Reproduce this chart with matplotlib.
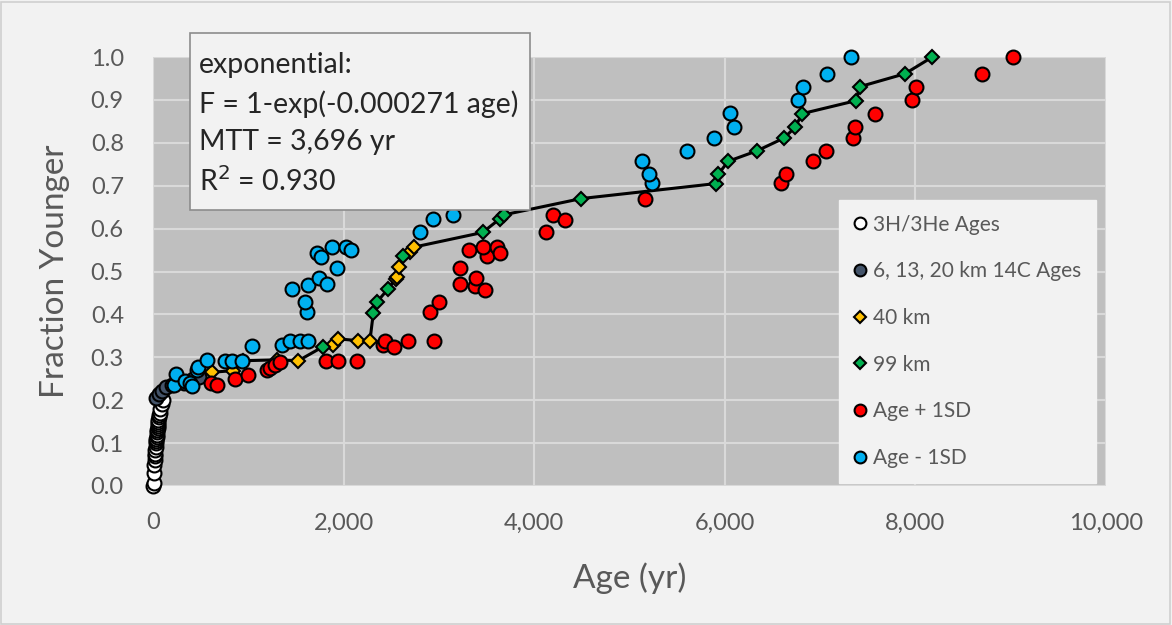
import matplotlib.pyplot as plt
from matplotlib.patches import Rectangle

plt.rcParams['font.family'] = ['Lato', 'DejaVu Sans']

# 3H/3He ages (yr) and fraction younger
he_age = [5, 8, 12, 15, 18, 20, 22, 25, 28, 30, 32, 35, 38, 40, 42, 45, 48, 50, 52, 55, 58, 60,
          65, 70, 78, 90, 105]
he_frac = [0.0, 0.008, 0.03, 0.05, 0.06, 0.07, 0.075, 0.085, 0.09, 0.10, 0.105, 0.11, 0.115,
           0.12, 0.125, 0.13, 0.135, 0.14, 0.145, 0.15, 0.155, 0.16, 0.165, 0.171, 0.18, 0.191, 0.2]

# 14C ages from the 6, 13 and 20 km wells
c14_age = [30, 60, 90, 140, 200, 330, 420, 480]
c14_frac = [0.205, 0.215, 0.222, 0.230, 0.235, 0.240, 0.250, 0.255]

# 40 km model ages
km40_age = [616, 843, 950, 1298, 1525, 1892, 1938, 2148, 2277, 2545, 2560, 2580, 2697, 2742]
km40_frac = [0.265, 0.269, 0.292, 0.294, 0.292, 0.329, 0.343, 0.339, 0.339, 0.483, 0.488,
             0.510, 0.545, 0.557]

# 99 km model ages
km99_age = [1787, 2312, 2347, 2469, 2626, 3459, 3641, 3680, 4494, 5908, 5932, 6037, 6335,
            6621, 6737, 6813, 7373, 7419, 7891, 8178]
km99_frac = [0.325, 0.403, 0.428, 0.460, 0.537, 0.591, 0.623, 0.632, 0.670, 0.705, 0.727,
             0.757, 0.781, 0.811, 0.836, 0.868, 0.898, 0.931, 0.961, 1.0]

# age + 1 standard deviation
plus_age = [605, 675, 860, 1000, 1200, 1228, 1280, 1333, 1812, 1938, 2137, 2417, 2434, 2529,
            2679, 2946, 2904, 2999, 3221, 3221, 3379, 3386, 3484, 3501, 3319, 3466, 3606, 3641,
            4124, 4194, 4323, 5166, 6590, 6639, 6929, 7062, 7349, 7366, 7576, 7968, 8003, 8695,
            9021]
plus_frac = [0.241, 0.236, 0.249, 0.259, 0.270, 0.274, 0.282, 0.290, 0.292, 0.292, 0.292,
             0.329, 0.339, 0.323, 0.339, 0.339, 0.405, 0.428, 0.508, 0.471, 0.467, 0.484, 0.458,
             0.535, 0.551, 0.557, 0.557, 0.543, 0.592, 0.632, 0.621, 0.670, 0.706, 0.727, 0.757,
             0.781, 0.811, 0.836, 0.868, 0.899, 0.931, 0.961, 1.0]

# age - 1 standard deviation
minus_age = [220, 238, 336, 388, 406, 458, 476, 563, 755, 826, 930, 1035, 1350, 1437, 1542,
             1630, 1613, 1592, 1455, 1630, 1745, 1822, 1928, 1718, 1760, 1882, 2022, 2074, 2802,
             2941, 3151, 3800, 5233, 5208, 5134, 5600, 5890, 6100, 6055, 6771, 6824, 7072, 7324]
minus_frac = [0.235, 0.261, 0.245, 0.239, 0.234, 0.270, 0.278, 0.294, 0.292, 0.292, 0.292,
              0.326, 0.329, 0.339, 0.339, 0.339, 0.405, 0.428, 0.460, 0.468, 0.485, 0.471, 0.508,
              0.543, 0.533, 0.557, 0.558, 0.551, 0.592, 0.623, 0.631, 0.670, 0.707, 0.727, 0.757,
              0.781, 0.811, 0.836, 0.870, 0.900, 0.931, 0.961, 1.0]

W, H = 1172, 625
bg = '#F2F2F2'
fig = plt.figure(figsize=(W / 100, H / 100), dpi=100, facecolor=bg)
fig.patches.append(Rectangle((0.001, 0.002), 0.997, 0.995, transform=fig.transFigure,
                             fill=False, edgecolor='#D0D0D0', lw=1.2))
ax = fig.add_axes([0.1305, 0.2224, 0.8132, 0.6864])
ax.set_facecolor('#BFBFBF')

# model line through the 14C, 40 km and 99 km points
line_pts = sorted(zip(c14_age + km40_age + km99_age, c14_frac + km40_frac + km99_frac))
ax.plot([p[0] for p in line_pts], [p[1] for p in line_pts], color='black', lw=2.2, zorder=3)

ms = 10
mew = 1.5
kw = dict(linestyle='none', markeredgecolor='black', markeredgewidth=mew, clip_on=False)
ax.plot(he_age, he_frac, 'o', ms=ms, mfc='white', label='3H/3He Ages', zorder=4, **kw)
ax.plot(c14_age, c14_frac, 'o', ms=ms, mfc='#44546A', label='6, 13, 20 km 14C Ages', zorder=4, **kw)
ax.plot(km40_age, km40_frac, 'D', ms=7, mfc='#FFC000', label='40 km', zorder=5, **kw)
ax.plot(km99_age, km99_frac, 'D', ms=7, mfc='#00B050', label='99 km', zorder=5, **kw)
ax.plot(plus_age, plus_frac, 'o', ms=ms, mfc='#FF0000', label='Age + 1SD', zorder=6, **kw)
ax.plot(minus_age, minus_frac, 'o', ms=ms, mfc='#00B0F0', label='Age - 1SD', zorder=6, **kw)

ax.set_xlim(0, 10000)
ax.set_ylim(0, 1.0)
ax.set_xticks(range(0, 10001, 2000))
ax.set_xticklabels([f'{v:,}' for v in range(0, 10001, 2000)])
ax.set_yticks([i / 10 for i in range(11)])
ax.set_yticklabels([f'{i / 10:.1f}' for i in range(11)])
ax.grid(True, color='#D9D9D9', lw=1.5)
ax.set_axisbelow(True)
for s in ax.spines.values():
    s.set_visible(False)
ax.tick_params(length=0, labelsize=17, colors='#595959')
ax.tick_params(axis='x', pad=19)
ax.tick_params(axis='y', pad=21)
ax.set_xlabel('Age (yr)', fontsize=24, color='#595959', va='center')
ax.set_ylabel('Fraction Younger', fontsize=24, color='#595959', va='center')
ax.xaxis.set_label_coords(0.5, -0.2145)
ax.yaxis.set_label_coords(-0.1028, 0.5)

leg = ax.legend(loc='upper left', bbox_to_anchor=(839 / W, 1 - 200 / H),
                bbox_transform=fig.transFigure, borderaxespad=0, fontsize=15,
                labelspacing=1.28, markerscale=0.85, handlelength=0.6, handletextpad=0.35,
                borderpad=0.7, frameon=True, fancybox=False, facecolor=bg, edgecolor=bg,
                framealpha=1)
for t in leg.get_texts():
    t.set_color('#595959')
leg.set_zorder(10)

# fit summary box
fig.patches.append(Rectangle((190 / W, 1 - 210 / H), 340 / W, 177 / H, transform=fig.transFigure,
                             facecolor=bg, edgecolor='#8C8C8C', lw=1.2, zorder=11))
fit_lines = ['exponential:', 'F = 1-exp(-0.000271 age)', 'MTT = 3,696 yr', 'R$^2$ = 0.930']
for i, s in enumerate(fit_lines):
    fig.text(199 / W, 1 - (65 + 38.7 * i) / H, s, fontsize=20.5, color='#262626',
             va='center', ha='left', zorder=12)

plt.savefig('out.png', dpi=100, facecolor=bg)
